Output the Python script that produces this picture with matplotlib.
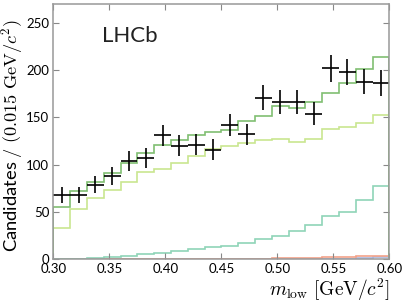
import numpy as np
import matplotlib
matplotlib.use("Agg")
import matplotlib.pyplot as plt

plt.rcParams["font.family"] = ["Lato", "DejaVu Sans"]
plt.rcParams["mathtext.fontset"] = "cm"

# bin edges 0.300 .. 0.600, width 0.015
edges = np.linspace(0.30, 0.60, 21)
centers = 0.5 * (edges[:-1] + edges[1:])

data = [68, 68, 79, 88, 104, 107, 131, 120, 121, 116,
        142, 132, 171, 166, 166, 154, 202, 198, 188, 186]

total = [55, 72, 82, 91, 102, 112, 121, 126, 131, 135,
         137, 146, 151, 162, 160, 166, 176, 186, 201, 214]
comp_a = [33, 53, 65, 73, 82, 92, 95, 102, 109, 117,
          120, 123, 126, 127, 124, 127, 138, 140, 144, 153]
comp_b = [0, 0.3, 1, 2.8, 3.8, 5.6, 7, 8.8, 10.6, 13.4,
          14, 17.5, 21, 24.7, 30.3, 36, 46, 50, 63, 77]
comp_c = [0, 0, 0, 0, 0, 0, 0, 0, 0, 0.2,
          0.3, 0.5, 0.7, 1.0, 1.3, 1.6, 2.0, 2.4, 3.0, 3.5]
comp_d = [0, 0, 0, 0, 0, 0, 0, 0, 0, 0,
          0, 0, 0, 0, 0, 0, 0, 0, 1.5, 2.5]

fig = plt.figure(figsize=(4.07, 3.04), dpi=100)
ax = fig.add_axes([0.131, 0.147, 0.826, 0.840])

ax.stairs(comp_d, edges, color="#a9b6de", lw=1.2)
ax.stairs(comp_c, edges, color="#f2a28a", lw=1.2)
ax.stairs(comp_b, edges, color="#8fd4b8", lw=1.2)
ax.stairs(comp_a, edges, color="#c9e690", lw=1.2)
ax.stairs(total, edges, color="#80bf72", lw=1.2)

ax.errorbar(centers, data, xerr=0.0075, yerr=np.sqrt(data), fmt="none",
            ecolor="black", elinewidth=1.2, capsize=0)

ax.set_xlim(0.30, 0.60)
ax.set_ylim(0, 270)
ax.set_xticks(np.arange(0.30, 0.601, 0.05))
ax.set_xticklabels(["0.30", "0.35", "0.40", "0.45", "0.50", "0.55", "0.60"])
ax.set_yticks([0, 50, 100, 150, 200, 250])

ax.tick_params(direction="in", top=True, right=True, length=4, width=0.8,
               colors="#888888", labelcolor="black", labelsize=9.5, pad=3)
for side in ["left", "bottom", "top", "right"]:
    ax.spines[side].set_color("#999999")
    ax.spines[side].set_linewidth(1.1)

ax.set_ylabel(r"Candidates $/\ (0.015\ \mathrm{GeV}/c^{2})$", fontsize=13.2)
ax.yaxis.set_label_coords(-0.085, 0.485)
ax.set_xlabel(r"$m_{\mathrm{low}}\ [\mathrm{GeV}/c^{2}]$", fontsize=14, loc="right", labelpad=1)

ax.text(0.145, 0.85, "LHCb", transform=ax.transAxes, fontsize=16, color="#222222")

fig.savefig("out.png", dpi=100)
